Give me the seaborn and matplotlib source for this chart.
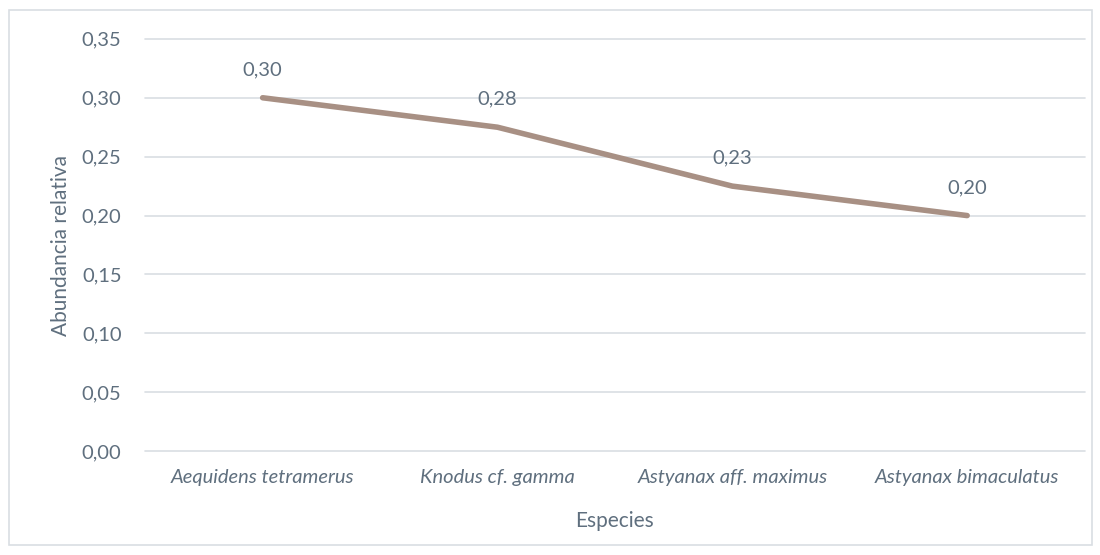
import matplotlib
matplotlib.use("Agg")
import matplotlib.pyplot as plt
import seaborn as sns
import pandas as pd
from matplotlib.patches import Rectangle

especies = ["Aequidens tetramerus", "Knodus cf. gamma", "Astyanax aff. maximus", "Astyanax bimaculatus"]
abundancia = [0.30, 0.275, 0.225, 0.20]
yticks = [0.00, 0.05, 0.10, 0.15, 0.20, 0.25, 0.30, 0.35]

df = pd.DataFrame({"Especies": especies, "Abundancia": abundancia})

sns.set_theme(style="white")
plt.rcParams["font.family"] = ["Lato", "DejaVu Sans"]

txt = "#5F6F7E"
grid = "#D9DEE3"
line_col = "#A89084"

fig = plt.figure(figsize=(11, 5.55), dpi=100)
ax = fig.add_axes([0.132, 0.187, 0.854, 0.743])

sns.lineplot(data=df, x="Especies", y="Abundancia", ax=ax, color=line_col,
             linewidth=4, sort=False, solid_capstyle="round")

ax.set_ylim(0, 0.35)
ax.set_xlim(-0.5, 3.5)
ax.set_yticks(yticks)
ax.set_yticklabels([f"{v:.2f}".replace(".", ",") for v in yticks])
ax.yaxis.grid(True, color=grid, linewidth=1.2)
for gl in ax.get_ygridlines():
    gl.set_clip_on(False)
ax.set_axisbelow(True)
for s in ax.spines.values():
    s.set_visible(False)
ax.tick_params(axis="both", length=0, labelsize=14.5, colors=txt)
ax.tick_params(axis="y", pad=17)
ax.tick_params(axis="x", pad=13)
for lab in ax.get_xticklabels():
    lab.set_fontstyle("italic")

for i, v in enumerate(abundancia):
    ax.annotate(f"{v:.2f}".replace(".", ","), (i, v), xytext=(0, 14),
                textcoords="offset points", ha="center", va="bottom",
                fontsize=14.5, color=txt)

ax.set_xlabel("Especies", fontsize=15, color=txt, labelpad=18)
ax.set_ylabel("Abundancia relativa", fontsize=15, color=txt, labelpad=8)

fig.patches.append(Rectangle((9 / 1100, 10 / 555), 1083 / 1100, 535 / 555,
                             transform=fig.transFigure, fill=False,
                             edgecolor=grid, linewidth=1.2))

fig.savefig("out.png", dpi=100)
